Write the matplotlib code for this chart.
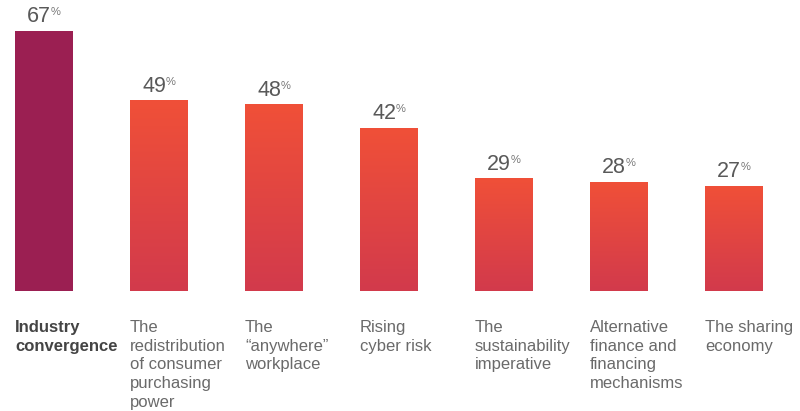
import numpy as np
import matplotlib
matplotlib.use("Agg")
import matplotlib.pyplot as plt
from matplotlib.colors import LinearSegmentedColormap

# chart data
categories = [
    "Industry\nconvergence",
    "The\nredistribution\nof consumer\npurchasing\npower",
    "The\n\u201canywhere\u201d\nworkplace",
    "Rising\ncyber risk",
    "The\nsustainability\nimperative",
    "Alternative\nfinance and\nfinancing\nmechanisms",
    "The sharing\neconomy",
]
values = [67, 49, 48, 42, 29, 28, 27]

plt.rcParams['font.family'] = ['Liberation Sans', 'DejaVu Sans']

fig = plt.figure(figsize=(8, 4.11), dpi=100)
ax = fig.add_axes([0, 0, 1, 1])
ax.set_xlim(-0.3826, 6.574)
ax.set_ylim(-30.93, 75.0)
ax.axis('off')

bar_w = 0.504
grad = LinearSegmentedColormap.from_list("g", ["#D23A4C", "#F05038"])
gimg = np.linspace(0, 1, 256).reshape(-1, 1)

for i, v in enumerate(values):
    x0 = i - bar_w / 2
    if i == 0:
        ax.bar(i, v, width=bar_w, color="#9B1F52")
    else:
        ax.imshow(gimg, cmap=grad, origin='lower', aspect='auto',
                  extent=(x0, x0 + bar_w, 0, v), zorder=2)

    # category label, left aligned with the bar
    ax.text(x0, -7.4, categories[i], ha='left', va='top', fontsize=12,
            linespacing=1.32, color="#444444" if i == 0 else "#6a6a6a",
            fontweight='bold' if i == 0 else 'normal')

fig.canvas.draw()
r = fig.canvas.get_renderer()
inv = ax.transData.inverted()
for i, v in enumerate(values):
    t1 = ax.text(i, v + 1.0, str(v), ha='left', va='bottom', fontsize=15.5,
                 color="#595959")
    t2 = ax.text(i, v + 1.0, "%", ha='left', va='bottom', fontsize=8,
                 color="#777777")
    w1 = t1.get_window_extent(r).width
    w2 = t2.get_window_extent(r).width
    cx = ax.transData.transform((i, v))[0]
    start = cx - (w1 + w2) / 2
    t1.set_x(inv.transform((start, 0))[0])
    t2.set_x(inv.transform((start + w1, 0))[0])
    t2.set_y(v + 3.6)

ax.set_xlim(-0.3826, 6.574)
ax.set_ylim(-30.93, 75.0)
fig.savefig("out.png", dpi=100)
